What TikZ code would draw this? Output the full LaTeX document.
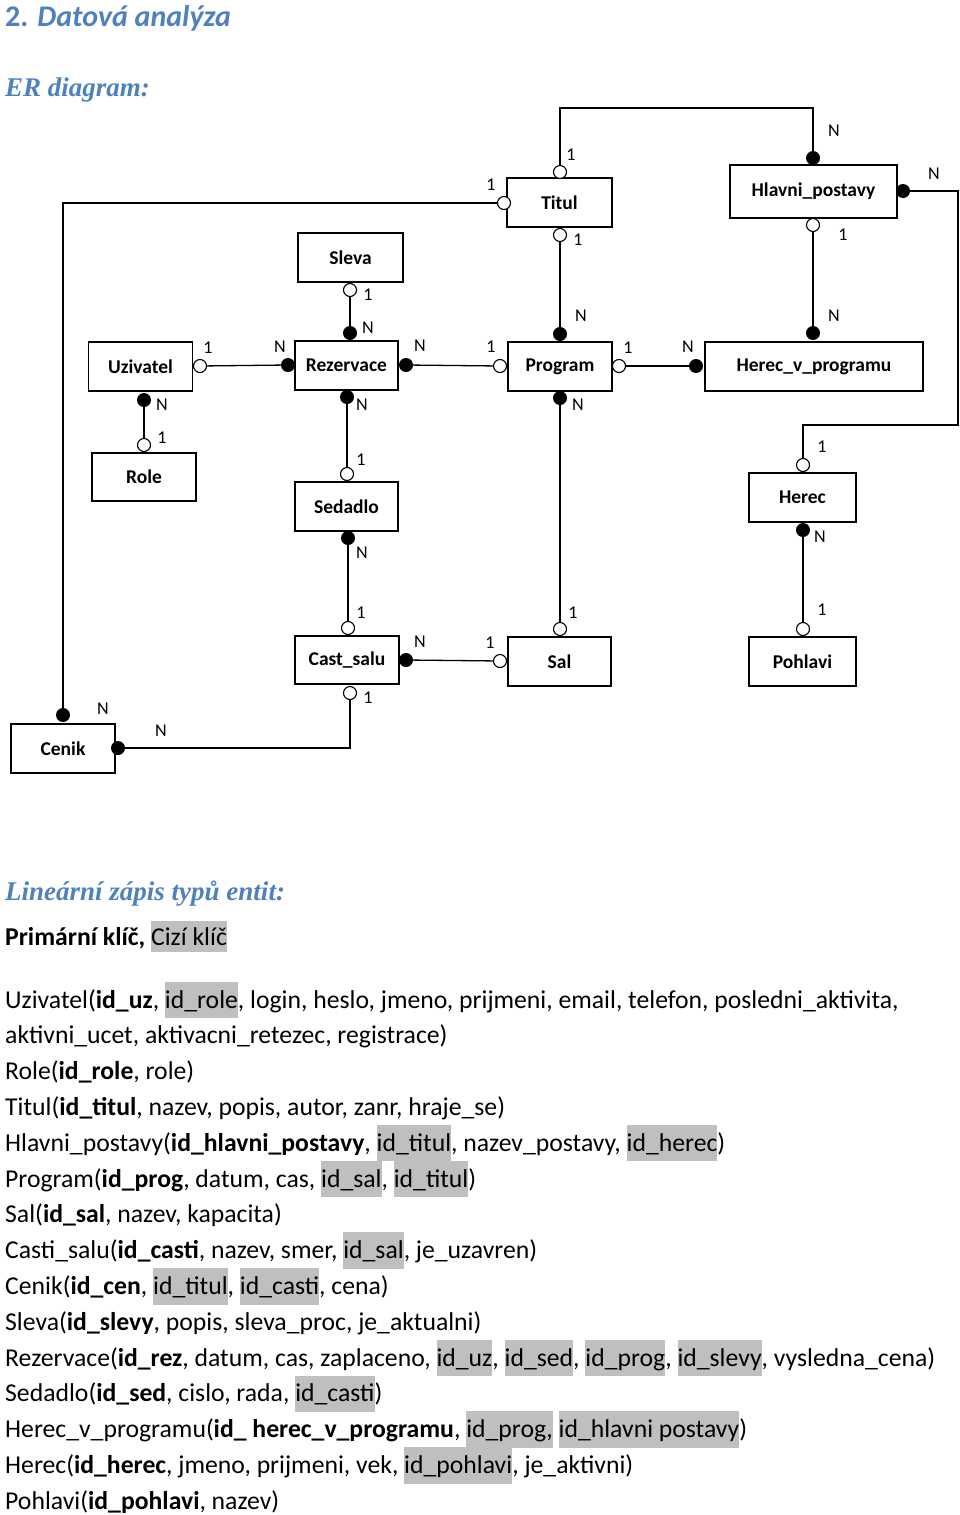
\documentclass[tikz,border=0pt]{standalone}
\usepackage{fontspec}
\setmainfont{Carlito}
\newfontfamily\serifhead{Liberation Serif}
\definecolor{headblue}{RGB}{79,129,189}
\definecolor{hlgray}{RGB}{191,191,191}
\newcommand{\hlk}[1]{{\setlength{\fboxsep}{0pt}\colorbox{hlgray}{\rule[-0.4em]{0pt}{1.42em}#1}}}
\newcommand{\hlp}[1]{{\setlength{\fboxsep}{0pt}\colorbox{hlgray}{\rule[-0.28em]{0pt}{1.22em}#1}}}
\begin{document}
\begin{tikzpicture}[x=1pt,y=-1pt,
  ent/.style={draw, line width=1.3pt, fill=white, inner sep=0pt,
    font=\fontsize{19.5}{22}\selectfont\bfseries},
  one/.style={circle, draw, fill=white, line width=1.1pt, minimum size=13pt, inner sep=0pt},
  many/.style={circle, fill=black, minimum size=14pt, inner sep=0pt},
  conn/.style={line width=1.3pt},
  card/.style={font=\fontsize{18}{20}\selectfont, inner sep=0pt},
  body/.style={anchor=base west, inner sep=0pt, font=\fontsize{25.7}{30}\selectfont},
  headsty/.style={anchor=base west, inner sep=0pt, text=headblue, font=\fontsize{27}{30}\serifhead\bfseries\itshape}
]
\fill[white] (0,0) rectangle (960,1515);
\useasboundingbox (0,0) rectangle (960,1515);

% headings
\node[anchor=base west, inner sep=0pt, text=headblue, font=\fontsize{30}{34}\selectfont\bfseries] (h1) at (5,27) {2. \textit{Datová analýza}};
\node[headsty] (h2) at (5,96) {ER diagram:};

% entities
\node[ent, minimum width=105, minimum height=49] (titul) at (559.5,202.5) {Titul};
\node[ent, minimum width=167, minimum height=53] (hlp) at (813.5,191.5) {Hlavni\_postavy};
\node[ent, minimum width=105, minimum height=49] (sleva) at (350.5,257.5) {Sleva};
\node[ent, minimum width=104, minimum height=49] (uziv) at (140.5,366.5) {Uzivatel};
\node[ent, minimum width=103, minimum height=49] (rez) at (346.5,365.5) {Rezervace};
\node[ent, minimum width=104, minimum height=49] (prog) at (560,366.5) {Program};
\node[ent, minimum width=218, minimum height=49] (hvp) at (814,366.5) {Herec\_v\_programu};
\node[ent, minimum width=104, minimum height=48] (role) at (144,477) {Role};
\node[ent, minimum width=103, minimum height=49] (sed) at (346.5,506.5) {Sedadlo};
\node[ent, minimum width=107, minimum height=49] (herec) at (802.5,497.5) {Herec};
\node[ent, minimum width=104, minimum height=48] (cast) at (347,660) {Cast\_salu};
\node[ent, minimum width=103, minimum height=49] (sal) at (559.5,661.5) {Sal};
\node[ent, minimum width=107, minimum height=49] (pohl) at (802.5,661.5) {Pohlavi};
\node[ent, minimum width=104, minimum height=49] (cenik) at (63,748.5) {Cenik};

% cardinality ends
\node[one]  (cTitT) at (560,172) {};
\node[many] (cHpT)  at (813,158) {};
\node[one]  (cTitL) at (504,203) {};
\node[many] (cCenT) at (63,715) {};
\node[one]  (cTitB) at (560,235) {};
\node[many] (cPrT)  at (560,334) {};
\node[one]  (cHpB)  at (813,225) {};
\node[many] (cHvT)  at (813,333) {};
\node[many] (cHpR)  at (903,191) {};
\node[one]  (cHeT)  at (803,465) {};
\node[one]  (cSlB)  at (350,290) {};
\node[many] (cRzT)  at (350,333) {};
\node[one]  (cUzR)  at (200,366) {};
\node[many] (cRzL)  at (288,365) {};
\node[many] (cRzR)  at (406,365) {};
\node[one]  (cPrL)  at (500,366) {};
\node[one]  (cPrR)  at (619,366) {};
\node[many] (cHvL)  at (696,366) {};
\node[many] (cUzB)  at (144,400) {};
\node[one]  (cRoT)  at (144,445) {};
\node[many] (cRzB)  at (347,397) {};
\node[one]  (cSeT)  at (347,474) {};
\node[many] (cSeB)  at (348,538) {};
\node[one]  (cCsT)  at (348,628) {};
\node[many] (cPrB)  at (560,398) {};
\node[one]  (cSaT)  at (560,629) {};
\node[many] (cHeB)  at (803,530) {};
\node[one]  (cPoT)  at (803,629) {};
\node[many] (cCsR)  at (406,660) {};
\node[one]  (cSaL)  at (500,661) {};
\node[one]  (cCsB)  at (350,693) {};
\node[many] (cCeR)  at (118,748) {};

% bend points
\coordinate (b1) at (560,108);
\coordinate (b2) at (63,203);
\coordinate (b3) at (958,191);
\coordinate (b4) at (958,425);
\coordinate (b5) at (803,425);
\coordinate (b6) at (350,748);

% connectors
\draw[conn] (cTitT) -- (b1) -| (cHpT);
\draw[conn] (cTitL) -- (b2) -- (cCenT);
\draw[conn] (cTitB) -- (cPrT);
\draw[conn] (cHpB) -- (cHvT);
\draw[conn] (cHpR) -- (b3) -- (b4) -- (b5) -- (cHeT);
\draw[conn] (cSlB) -- (cRzT);
\draw[conn] (cUzR) -- (cRzL);
\draw[conn] (cRzR) -- (cPrL);
\draw[conn] (cPrR) -- (cHvL);
\draw[conn] (cUzB) -- (cRoT);
\draw[conn] (cRzB) -- (cSeT);
\draw[conn] (cSeB) -- (cCsT);
\draw[conn] (cPrB) -- (cSaT);
\draw[conn] (cHeB) -- (cPoT);
\draw[conn] (cCsR) -- (cSaL);
\draw[conn] (cCsB) -- (b6) -- (cCeR);

% cardinality labels
\foreach \t/\x/\y [count=\i] in {
  1/571/155, N/834/131, 1/491/185, N/103/709, 1/578/240, N/581/316,
  1/843/235, N/834/316, N/934/174, 1/822/447, 1/368/295, N/368/328,
  1/208/348, N/280/347, N/420/346, 1/491/347, 1/628/348, N/688/347,
  N/162/405, 1/162/438, N/362/405, 1/361/460, N/362/553, 1/361/613,
  N/578/405, 1/573/613, N/820/537, 1/822/610, N/420/642, 1/490/643,
  1/368/698, N/161/731}
  \node[card] (lab\i) at (\x,\y) {\t};

% linear notation
\node[headsty] (h3) at (5,900) {Lineární zápis typů entit:};
\node[body] (pk) at (5,945) {\textbf{Primární klíč,} \hlp{Cizí klíč}};

\node[body] (t1) at (5,1008) {Uzivatel(\textbf{id\_uz}, \hlk{id\_role}, login, heslo, jmeno, prijmeni, email, telefon, posledni\_aktivita,};
\node[body] (t2) at (5,1043.8) {aktivni\_ucet, aktivacni\_retezec, registrace)};
\node[body] (t3) at (5,1079.6) {Role(\textbf{id\_role}, role)};
\node[body] (t4) at (5,1115.4) {Titul(\textbf{id\_titul}, nazev, popis, autor, zanr, hraje\_se)};
\node[body] (t5) at (5,1151.2) {Hlavni\_postavy(\textbf{id\_hlavni\_postavy}, \hlk{id\_titul}, nazev\_postavy, \hlk{id\_herec})};
\node[body] (t6) at (5,1187) {Program(\textbf{id\_prog}, datum, cas, \hlk{id\_sal}, \hlk{id\_titul})};
\node[body] (t7) at (5,1222.8) {Sal(\textbf{id\_sal}, nazev, kapacita)};
\node[body] (t8) at (5,1258.6) {Casti\_salu(\textbf{id\_casti}, nazev, smer, \hlk{id\_sal}, je\_uzavren)};
\node[body] (t9) at (5,1294.4) {Cenik(\textbf{id\_cen}, \hlk{id\_titul}, \hlk{id\_casti}, cena)};
\node[body] (t10) at (5,1330.2) {Sleva(\textbf{id\_slevy}, popis, sleva\_proc, je\_aktualni)};
\node[body] (t11) at (5,1366) {Rezervace(\textbf{id\_rez}, datum, cas, zaplaceno, \hlk{id\_uz}, \hlk{id\_sed}, \hlk{id\_prog}, \hlk{id\_slevy}, vysledna\_cena)};
\node[body] (t12) at (5,1401.8) {Sedadlo(\textbf{id\_sed}, cislo, rada, \hlk{id\_casti})};
\node[body] (t13) at (5,1437.6) {Herec\_v\_programu(\textbf{id\_ herec\_v\_programu}, \hlk{id\_prog,} \hlk{id\_hlavni postavy})};
\node[body] (t14) at (5,1473.4) {Herec(\textbf{id\_herec}, jmeno, prijmeni, vek, \hlk{id\_pohlavi}, je\_aktivni)};
\node[body] (t15) at (5,1509.2) {Pohlavi(\textbf{id\_pohlavi}, nazev)};
\end{tikzpicture}
\end{document}
